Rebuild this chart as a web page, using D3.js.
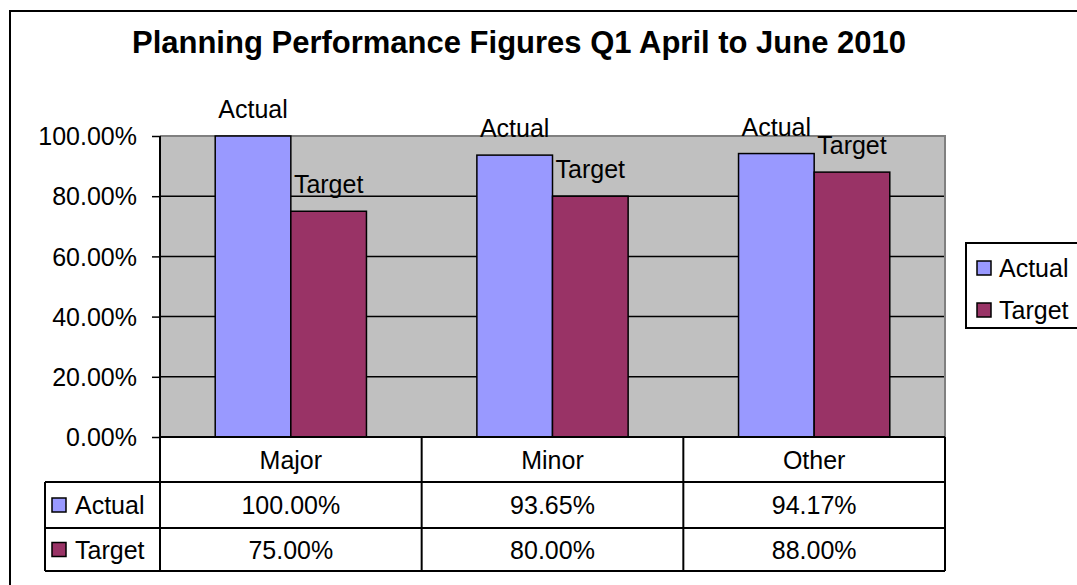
<!DOCTYPE html>
<html>
<head>
<meta charset="utf-8">
<script src="https://cdn.jsdelivr.net/npm/d3@7"></script>
<style>
body { margin: 0; background: #fff; }
text { font-family: Arial, "Liberation Sans", sans-serif; fill: #000; }
</style>
</head>
<body>
<div id="chart"></div>
<script>
// data
var categories = ["Major", "Minor", "Other"];
var seriesNames = ["Actual", "Target"];
var actual = [1.0, 0.9365, 0.9417];
var target = [0.75, 0.80, 0.88];
var yTicks = [0, 0.2, 0.4, 0.6, 0.8, 1.0];

var colors = { Actual: "#9999FF", Target: "#993366" };

var W = 1077, H = 585;
var plot = { left: 160, right: 945, top: 136, bottom: 437 };
var rowH = [45, 46, 43];
var tableLeft = 45;
var fs = 25;

var svg = d3.select("#chart").append("svg")
    .attr("width", W)
    .attr("height", H);

// outer chart frame (runs off the picture on right and bottom)
svg.append("rect")
    .attr("x", 10).attr("y", 11)
    .attr("width", 1300).attr("height", 800)
    .attr("fill", "none")
    .attr("stroke", "#000")
    .attr("stroke-width", 2);

svg.append("text")
    .attr("x", 519)
    .attr("y", 53)
    .attr("text-anchor", "middle")
    .style("font-weight", "bold")
    .style("font-size", "31px")
    .text("Planning Performance Figures Q1 April to June 2010");

var x0 = d3.scaleBand()
    .domain(categories)
    .range([plot.left, plot.right]);

var x1 = d3.scaleBand()
    .domain(seriesNames)
    .range([0, x0.bandwidth()])
    .paddingOuter(0.73);

var y = d3.scaleLinear()
    .domain([0, 1])
    .range([plot.bottom, plot.top]);

// plot background
svg.append("rect")
    .attr("x", plot.left).attr("y", plot.top)
    .attr("width", plot.right - plot.left)
    .attr("height", plot.bottom - plot.top)
    .attr("fill", "#C0C0C0");

// gridlines
svg.selectAll(".grid")
    .data(yTicks.filter(function(d) { return d > 0 && d < 1; }))
    .enter()
    .append("line")
    .attr("x1", plot.left).attr("x2", plot.right)
    .attr("y1", function(d) { return y(d); })
    .attr("y2", function(d) { return y(d); })
    .attr("stroke", "#000")
    .attr("stroke-width", 1.5);

// top and right border of plot area
svg.append("path")
    .attr("d", "M" + plot.left + "," + plot.top + "H" + plot.right + "V" + plot.bottom)
    .attr("fill", "none")
    .attr("stroke", "#808080")
    .attr("stroke-width", 2);

// y axis
var yAxis = d3.axisLeft(y)
    .tickValues(yTicks)
    .tickFormat(d3.format(".2%"))
    .tickSize(8)
    .tickPadding(15);

var ga = svg.append("g")
    .attr("transform", "translate(" + plot.left + ",0)")
    .call(yAxis);
ga.select(".domain").remove();
ga.selectAll("line").attr("stroke", "#000").attr("stroke-width", 1.5);
ga.selectAll("text")
    .style("font-size", fs + "px")
    .attr("font-family", null)
    .attr("dy", "0.35em");

// bars
var rows = categories.map(function(c, i) {
    return { cat: c, vals: [{ s: "Actual", v: actual[i] }, { s: "Target", v: target[i] }] };
});

var groups = svg.selectAll(".cat")
    .data(rows)
    .enter()
    .append("g")
    .attr("transform", function(d) { return "translate(" + x0(d.cat) + ",0)"; });

groups.selectAll("rect")
    .data(function(d) { return d.vals; })
    .enter()
    .append("rect")
    .attr("x", function(d) { return x1(d.s); })
    .attr("y", function(d) { return y(d.v); })
    .attr("width", x1.bandwidth())
    .attr("height", function(d) { return y(0) - y(d.v); })
    .attr("fill", function(d) { return colors[d.s]; })
    .attr("stroke", "#000")
    .attr("stroke-width", 1.5);

groups.selectAll(".lbl")
    .data(function(d) { return d.vals; })
    .enter()
    .append("text")
    .attr("x", function(d) { return x1(d.s) + x1.bandwidth() / 2; })
    .attr("y", function(d) { return y(d.v) - 18; })
    .attr("text-anchor", "middle")
    .style("font-size", fs + "px")
    .text(function(d) { return d.s; });

// data table
var tTop = plot.bottom;
var r1 = tTop + rowH[0], r2 = r1 + rowH[1], r3 = r2 + rowH[2];
var tbl = svg.append("g").attr("stroke", "#000").attr("stroke-width", 2);

tbl.append("line").attr("x1", plot.left).attr("x2", plot.right).attr("y1", tTop).attr("y2", tTop);
[r1, r2, r3].forEach(function(ry) {
    tbl.append("line").attr("x1", tableLeft).attr("x2", plot.right).attr("y1", ry).attr("y2", ry);
});
tbl.append("line").attr("x1", tableLeft).attr("x2", tableLeft).attr("y1", r1).attr("y2", r3);
// value axis line runs down into the table, other dividers only in the table
categories.forEach(function(c, i) {
    tbl.append("line")
        .attr("x1", x0(c)).attr("x2", x0(c))
        .attr("y1", i == 0 ? plot.top : tTop)
        .attr("y2", r3);
});
tbl.append("line").attr("x1", plot.right).attr("x2", plot.right).attr("y1", tTop).attr("y2", r3);

svg.selectAll(".catlbl")
    .data(categories)
    .enter()
    .append("text")
    .attr("x", function(d) { return x0(d) + x0.bandwidth() / 2; })
    .attr("y", tTop + rowH[0] / 2 + 9)
    .attr("text-anchor", "middle")
    .style("font-size", fs + "px")
    .text(function(d) { return d; });

var fmt = d3.format(".2%");
[actual, target].forEach(function(vals, si) {
    var top = si == 0 ? r1 : r2;
    var h = rowH[si + 1];
    svg.append("rect")
        .attr("x", 52).attr("y", top + h / 2 - 7)
        .attr("width", 14).attr("height", 14)
        .attr("fill", colors[seriesNames[si]])
        .attr("stroke", "#000")
        .attr("stroke-width", 1.5);
    svg.append("text")
        .attr("x", 75)
        .attr("y", top + h / 2 + 9)
        .style("font-size", fs + "px")
        .text(seriesNames[si]);
    svg.selectAll(".v" + si)
        .data(vals)
        .enter()
        .append("text")
        .attr("x", function(d, i) { return x0(categories[i]) + x0.bandwidth() / 2; })
        .attr("y", top + h / 2 + 9)
        .attr("text-anchor", "middle")
        .style("font-size", fs + "px")
        .text(function(d) { return fmt(d); });
});

// legend
var lg = svg.append("g").attr("transform", "translate(966,243)");
lg.append("rect")
    .attr("width", 140).attr("height", 85)
    .attr("fill", "#fff")
    .attr("stroke", "#000")
    .attr("stroke-width", 2);
seriesNames.forEach(function(s, i) {
    var cy = 25 + i * 42;
    lg.append("rect")
        .attr("x", 11).attr("y", cy - 7)
        .attr("width", 14).attr("height", 14)
        .attr("fill", colors[s])
        .attr("stroke", "#000")
        .attr("stroke-width", 1.5);
    lg.append("text")
        .attr("x", 33)
        .attr("y", cy + 9)
        .style("font-size", fs + "px")
        .text(s);
});
</script>
</body>
</html>
